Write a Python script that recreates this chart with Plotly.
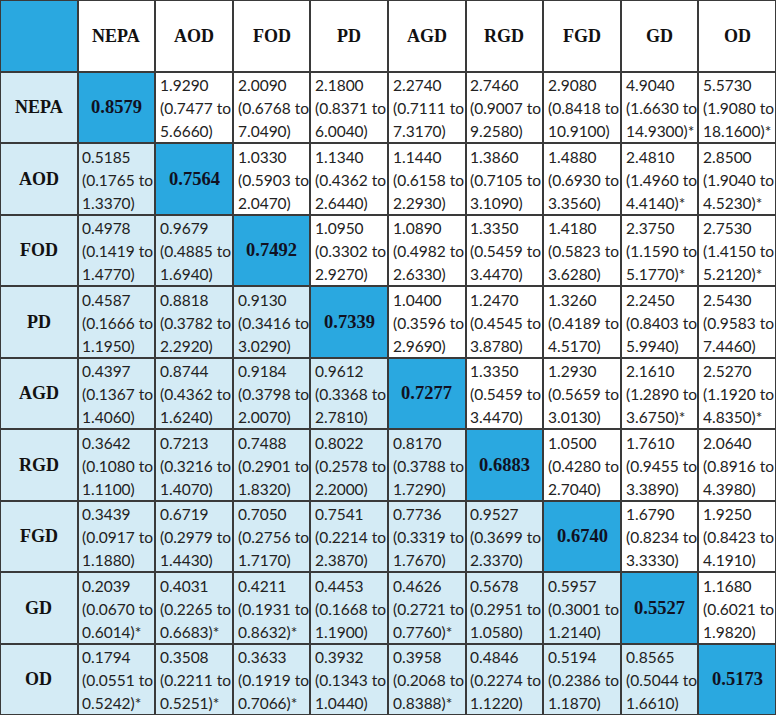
import plotly.graph_objects as go

labels = ["NEPA", "AOD", "FOD", "PD", "AGD", "RGD", "FGD", "GD", "OD"]
diag = [0.8579, 0.7564, 0.7492, 0.7339, 0.7277, 0.6883, 0.6740, 0.5527, 0.5173]

# odds ratio [row][col], None on diagonal
est = [
    [None, 1.9290, 2.0090, 2.1800, 2.2740, 2.7460, 2.9080, 4.9040, 5.5730],
    [0.5185, None, 1.0330, 1.1340, 1.1440, 1.3860, 1.4880, 2.4810, 2.8500],
    [0.4978, 0.9679, None, 1.0950, 1.0890, 1.3350, 1.4180, 2.3750, 2.7530],
    [0.4587, 0.8818, 0.9130, None, 1.0400, 1.2470, 1.3260, 2.2450, 2.5430],
    [0.4397, 0.8744, 0.9184, 0.9612, None, 1.3350, 1.2930, 2.1610, 2.5270],
    [0.3642, 0.7213, 0.7488, 0.8022, 0.8170, None, 1.0500, 1.7610, 2.0640],
    [0.3439, 0.6719, 0.7050, 0.7541, 0.7736, 0.9527, None, 1.6790, 1.9250],
    [0.2039, 0.4031, 0.4211, 0.4453, 0.4626, 0.5678, 0.5957, None, 1.1680],
    [0.1794, 0.3508, 0.3633, 0.3932, 0.3958, 0.4846, 0.5194, 0.8565, None],
]
lower = [
    [None, 0.7477, 0.6768, 0.8371, 0.7111, 0.9007, 0.8418, 1.6630, 1.9080],
    [0.1765, None, 0.5903, 0.4362, 0.6158, 0.7105, 0.6930, 1.4960, 1.9040],
    [0.1419, 0.4885, None, 0.3302, 0.4982, 0.5459, 0.5823, 1.1590, 1.4150],
    [0.1666, 0.3782, 0.3416, None, 0.3596, 0.4545, 0.4189, 0.8403, 0.9583],
    [0.1367, 0.4362, 0.3798, 0.3368, None, 0.5459, 0.5659, 1.2890, 1.1920],
    [0.1080, 0.3216, 0.2901, 0.2578, 0.3788, None, 0.4280, 0.9455, 0.8916],
    [0.0917, 0.2979, 0.2756, 0.2214, 0.3319, 0.3699, None, 0.8234, 0.8423],
    [0.0670, 0.2265, 0.1931, 0.1668, 0.2721, 0.2951, 0.3001, None, 0.6021],
    [0.0551, 0.2211, 0.1919, 0.1343, 0.2068, 0.2274, 0.2386, 0.5044, None],
]
upper = [
    [None, 5.6660, 7.0490, 6.0040, 7.3170, 9.2580, 10.9100, 14.9300, 18.1600],
    [1.3370, None, 2.0470, 2.6440, 2.2930, 3.1090, 3.3560, 4.4140, 4.5230],
    [1.4770, 1.6940, None, 2.9270, 2.6330, 3.4470, 3.6280, 5.1770, 5.2120],
    [1.1950, 2.2920, 3.0290, None, 2.9690, 3.8780, 4.5170, 5.9940, 7.4460],
    [1.4060, 1.6240, 2.0070, 2.7810, None, 3.4470, 3.0130, 3.6750, 4.8350],
    [1.1100, 1.4070, 1.8320, 2.2000, 1.7290, None, 2.7040, 3.3890, 4.3980],
    [1.1880, 1.4430, 1.7170, 2.3870, 1.7670, 2.3370, None, 3.3330, 4.1910],
    [0.6014, 0.6683, 0.8632, 1.1900, 0.7760, 1.0580, 1.2140, None, 1.9820],
    [0.5242, 0.5251, 0.7066, 1.0440, 0.8388, 1.1220, 1.1870, 1.6610, None],
]

n = len(labels)
N = n + 1
BLUE = "#2AA8E0"
LIGHT = "#D4EBF5"
LINE = "#3A3A3A"
BODY_FONT = "Lato"
HEAD_FONT = "Liberation Serif"

# cell type grid: 0 white, 1 light blue, 2 blue
z = []
for r in range(N):
    row = []
    for c in range(N):
        if r == 0 and c == 0:
            row.append(2)
        elif r == 0:
            row.append(0)
        elif c == 0:
            row.append(1)
        elif r == c:
            row.append(2)
        elif r > c:
            row.append(1)
        else:
            row.append(0)
    z.append(row)

fig = go.Figure(go.Heatmap(
    z=z, x=list(range(N)), y=list(range(N)),
    colorscale=[[0, "#FFFFFF"], [0.5, LIGHT], [1, BLUE]],
    zmin=0, zmax=2, showscale=False, xgap=2, ygap=2, hoverinfo="skip",
))

ann = []
for k, lab in enumerate(labels):
    ann.append(dict(x=k + 1, y=0, text="<b>%s</b>" % lab, showarrow=False,
                    font=dict(family=HEAD_FONT, size=18, color="#111111")))
    ann.append(dict(x=0, y=k + 1, text="<b>%s</b>" % lab, showarrow=False,
                    font=dict(family=HEAD_FONT, size=18, color="#111111")))
    ann.append(dict(x=k + 1, y=k + 1, text="<b>%.4f</b>" % diag[k], showarrow=False,
                    font=dict(family=HEAD_FONT, size=18.5, color="#111122")))

for i in range(n):
    for j in range(n):
        if i == j:
            continue
        lo, hi = lower[i][j], upper[i][j]
        star = "*" if (hi < 1 or lo > 1) else ""
        lines = ["%.4f" % est[i][j], "(%.4f to" % lo, "%.4f)%s" % (hi, star)]
        for li, t in enumerate(lines):
            ann.append(dict(x=j + 1, y=i + 1, text=t, showarrow=False,
                            xanchor="left", xshift=-36, yshift=(1 - li) * 23 - 1,
                            font=dict(family=BODY_FONT, size=15.5, color="#222222")))

fig.update_layout(
    width=777, height=718,
    margin=dict(l=0, r=1, t=0, b=3),
    paper_bgcolor="white", plot_bgcolor=LINE,
    xaxis=dict(range=[-0.5, N - 0.5], visible=False, fixedrange=True),
    yaxis=dict(range=[N - 0.5, -0.5], visible=False, fixedrange=True),
    annotations=ann,
)

fig.write_html("out.html", config={"displayModeBar": False},
               post_script="document.body.style.margin='0';")
